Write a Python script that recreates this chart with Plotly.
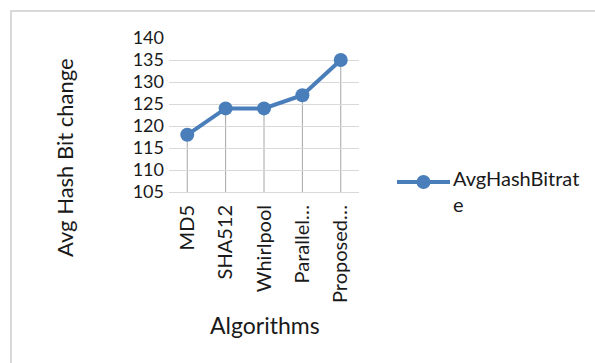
import plotly.graph_objects as go

# Average hash bit change per algorithm
algorithms = ["MD5", "SHA512", "Whirlpool", "Parallel…", "Proposed…"]
avg_hash_bitrate = [118, 124, 124, 127, 135]
y_ticks = [105, 110, 115, 120, 125, 130, 135, 140]
series_name = "AvgHashBitrat<br>e"

W, H = 595, 363
L, R, T, B = 169, 236, 38, 171
pw, ph = W - L - R, H - T - B

def px_x(px):
    return (px - L) / pw

def px_y(py):
    return 1 - (py - T) / ph

line_color = "#4a7ebb"
font = "Lato, 'Open Sans', sans-serif"
text_color = "#1a1a1a"

fig = go.Figure()
fig.add_trace(go.Scatter(
    x=algorithms, y=avg_hash_bitrate, mode="lines+markers",
    name=series_name, showlegend=False,
    line=dict(color=line_color, width=4),
    marker=dict(color=line_color, size=14),
))

# drop lines from each point down to the category axis
shapes = [
    dict(type="line", xref="x", yref="y", x0=a, x1=a, y0=y_ticks[0], y1=v,
         line=dict(color="#a6a6a6", width=1), layer="below")
    for a, v in zip(algorithms, avg_hash_bitrate)
]
# chart frame (top and left edges)
shapes.append(dict(type="path", xref="paper", yref="paper",
                   path=f"M {px_x(11)} {px_y(363)} L {px_x(11)} {px_y(11)} L {px_x(596)} {px_y(11)}",
                   line=dict(color="#d9d9d9", width=2)))
# legend key: line with a centred marker
shapes.append(dict(type="line", xref="paper", yref="paper",
                   x0=px_x(397), x1=px_x(450), y0=px_y(182), y1=px_y(182),
                   line=dict(color=line_color, width=4)))
shapes.append(dict(type="circle", xref="paper", yref="paper",
                   x0=px_x(416.5), x1=px_x(430.5), y0=px_y(175), y1=px_y(189),
                   fillcolor=line_color, line=dict(color=line_color, width=0)))

annotations = [
    dict(text=series_name, xref="paper", yref="paper", x=px_x(451), y=px_y(164),
         xanchor="left", yanchor="top", align="left", showarrow=False,
         font=dict(size=20, color=text_color)),
    dict(text="Avg Hash Bit change", xref="paper", yref="paper", x=px_x(64), y=px_y(157),
         xanchor="center", yanchor="middle", textangle=-90, showarrow=False,
         font=dict(size=22, color=text_color)),
    dict(text="Algorithms", xref="paper", yref="paper", x=px_x(265), y=px_y(325),
         xanchor="center", yanchor="middle", showarrow=False,
         font=dict(size=23, color=text_color)),
]

fig.update_layout(
    width=W, height=H,
    margin=dict(l=L, r=R, t=T, b=B),
    paper_bgcolor="white", plot_bgcolor="white",
    font=dict(family=font, size=18, color=text_color),
    showlegend=False,
    shapes=shapes,
    annotations=annotations,
)
fig.update_xaxes(
    type="category", tickangle=-90, showgrid=False,
    showline=True, linecolor="#d9d9d9", linewidth=1,
    ticks="", tickfont=dict(size=20), ticklabelstandoff=4,
)
fig.update_yaxes(
    range=[105, 140], tickvals=y_ticks, showgrid=True, gridcolor="#d9d9d9",
    zeroline=False, showline=False, ticks="",
    tickfont=dict(size=18), ticklabelstandoff=4,
)

fig.write_html("out.html")
